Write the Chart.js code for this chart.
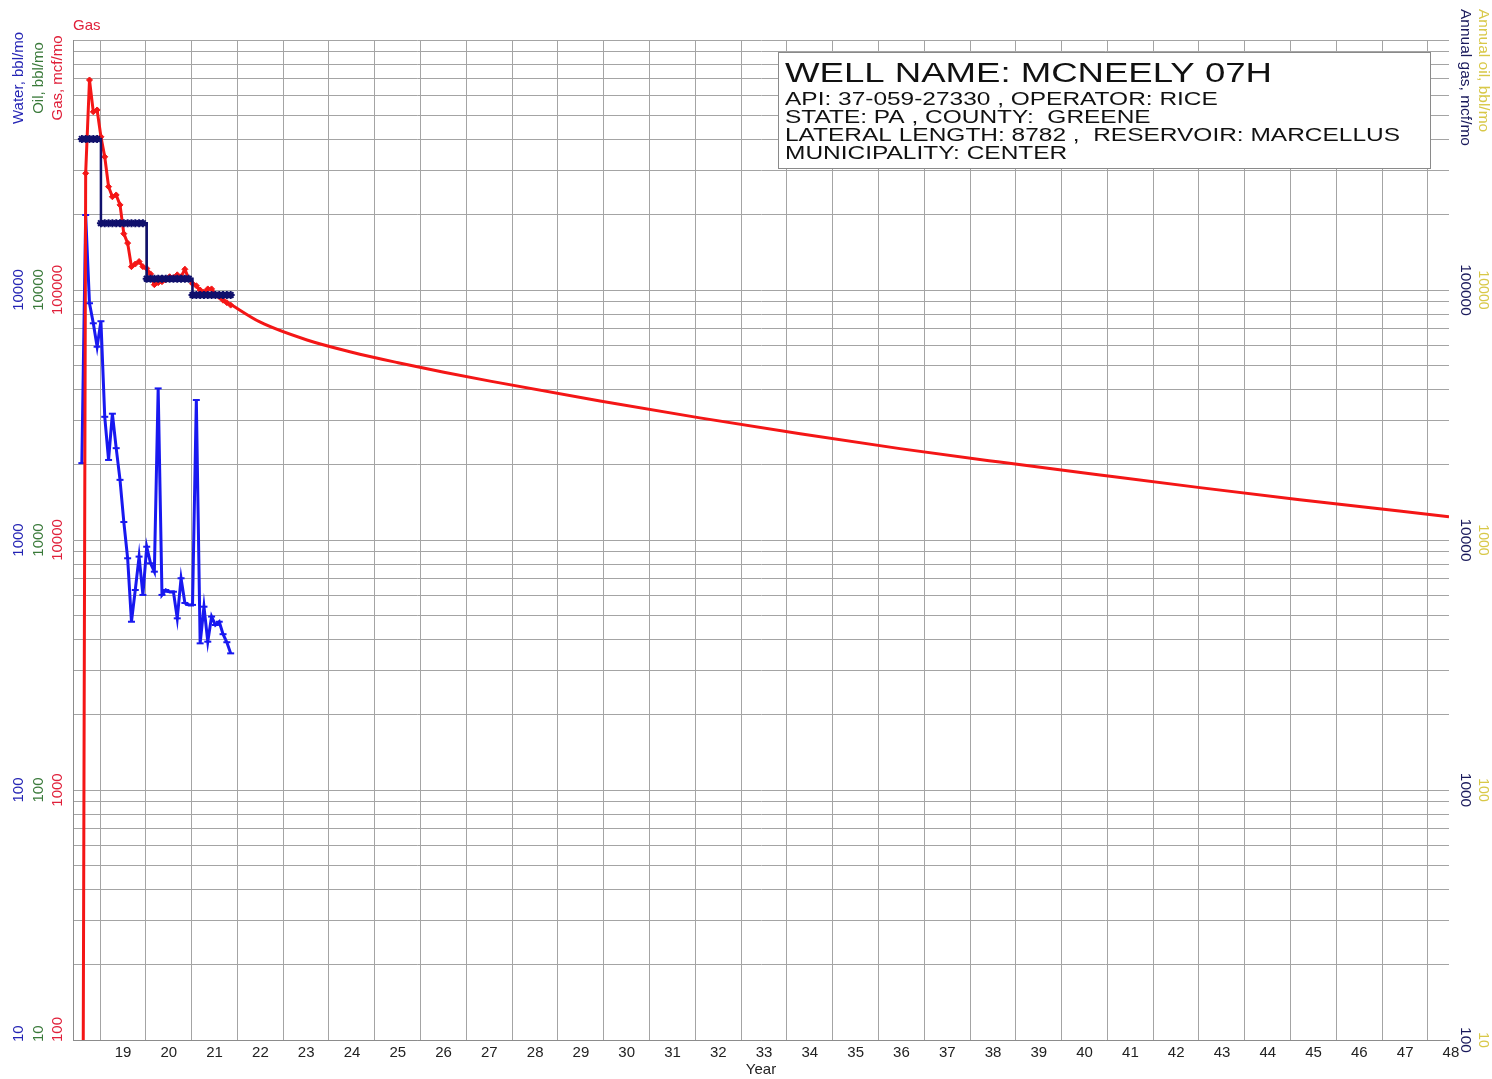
<!DOCTYPE html>
<html>
<head>
<meta charset="utf-8">
<script src="https://cdn.jsdelivr.net/npm/chart.js@4.4.1/dist/chart.umd.min.js"></script>
<style>
html, body { margin: 0; padding: 0; background: #fff; }
#wrap { width: 1492px; height: 1079px; }
</style>
</head>
<body>
<div id="wrap"><canvas id="well_chart"></canvas></div>
<script>
/** DATA **/
const prodMonths = [
    '2018-08', '2018-09', '2018-10', '2018-11', '2018-12',
    '2019-01', '2019-02', '2019-03', '2019-04', '2019-05', '2019-06',
    '2019-07', '2019-08', '2019-09', '2019-10', '2019-11', '2019-12',
    '2020-01', '2020-02', '2020-03', '2020-04', '2020-05', '2020-06',
    '2020-07', '2020-08', '2020-09', '2020-10', '2020-11', '2020-12',
    '2021-01', '2021-02', '2021-03', '2021-04', '2021-05', '2021-06',
    '2021-07', '2021-08', '2021-09', '2021-10', '2021-11'
]
// gas, mcf/mo
const gasMonthly = [
    1, 293000, 692000, 516000, 525000,
    410000, 341000, 259000, 236000, 240000, 219000,
    168000, 154000, 124000, 127000, 130000, 124000,
    122000, 116000, 105000, 107000, 108000, 110000,
    113000, 112000, 115000, 113000, 121000, 111000,
    106000, 104000, 100000, 98000, 101000, 101000,
    96000, 94000, 91000, 89000, 87000
]
// water, bbl/mo
const waterMonthly = [
    2030, 19950, 8850, 7360, 5930,
    7500, 3110, 2090, 3200, 2330, 1740,
    1180, 845, 471, 631, 858, 603,
    940, 807, 747, 4040, 603, 631,
    620, 621, 486, 703, 560, 550,
    550, 3630, 386, 541, 392, 494,
    457, 471, 420, 390, 352
]
// annual gas, mcf/mo
const annualYears = [2018, 2019, 2020, 2021]
const annualGas = [402000, 185000, 111000, 95500]

// forecast, mcf/mo
const forecastYears = [2021.84, 2022.49, 2023.52, 2024.5, 2025.51, 2026.51, 2027.52, 2029.92,
    2032.1, 2034.29, 2036.47, 2038.65, 2040.84, 2043.02, 2045.2, 2048.46]
const forecastGas = [87900, 74500, 63100, 56400, 51200, 46900, 43200, 36000,
    30800, 26600, 23200, 20500, 18200, 16200, 14500, 12400]

const yearTicks = []
for (let yr = 2019; yr <= 2048; yr++) yearTicks.push(yr)

const gasTickLabels = [100000, 10000, 1000, 100]
const waterTickLabels = [10000, 1000, 100, 10]

const infoTitle = 'WELL NAME: MCNEELY 07H'
const infoLines = [
    'API: 37-059-27330 , OPERATOR: RICE',
    'STATE: PA , COUNTY:  GREENE',
    'LATERAL LENGTH: 8782 ,  RESERVOIR: MARCELLUS',
    'MUNICIPALITY: CENTER'
]

/** helpers **/
function month_to_year(m) {
    var parts = m.split('-')
    return parseInt(parts[0]) + (parseInt(parts[1]) - 1) / 12 + 0.02
}

function to_points(xs, ys) {
    return xs.map(function (x, i) { return { x: x, y: ys[i] } })
}

const monthX = prodMonths.map(month_to_year)
const annualMonthly = prodMonths.map(function (m) {
    return annualGas[annualYears.indexOf(parseInt(m.slice(0, 4)))]
})

const FONT = 'Liberation Sans, Arial, sans-serif'
const RED = '#f41616'
const BLUE = '#1818f0'
const NAVY = '#10106c'

function log_ticks(min, max) {
    var t = []
    for (var d = min; d < max; d *= 10) {
        for (var k = 1; k < 10; k++) t.push({ value: d * k })
    }
    t.push({ value: max })
    return t
}

function draw_rot(ctx, text, x, y, angle, color, size, align) {
    ctx.save()
    ctx.translate(x, y)
    ctx.rotate(angle)
    ctx.fillStyle = color
    ctx.font = size + 'px ' + FONT
    ctx.textAlign = align || 'center'
    ctx.textBaseline = 'middle'
    ctx.fillText(text, 0, 0)
    ctx.restore()
}

/** text drawn around the plot **/
const wellText = {
    id: 'wellText',
    afterDraw(chart) {
        const ctx = chart.ctx
        const yg = chart.scales.y
        const yw = chart.scales.yw
        const bottom = chart.chartArea.bottom

        // left tick labels
        waterTickLabels.forEach(function (v) {
            ctx.font = '15px ' + FONT
            var w = ctx.measureText(String(v)).width
            var py = Math.min(yw.getPixelForValue(v), bottom + 2 - w / 2)
            draw_rot(ctx, String(v), 19, py, -Math.PI / 2, '#2424b4', 15)
            draw_rot(ctx, String(v), 39, py, -Math.PI / 2, '#3a7a3a', 15)
        })
        gasTickLabels.forEach(function (v) {
            ctx.font = '15px ' + FONT
            var w = ctx.measureText(String(v)).width
            var py = Math.min(yg.getPixelForValue(v), bottom + 2 - w / 2)
            draw_rot(ctx, String(v), 58, py, -Math.PI / 2, '#e0203a', 15)
        })

        // left titles
        draw_rot(ctx, 'Water, bbl/mo', 19, 78, -Math.PI / 2, '#2424b4', 15)
        draw_rot(ctx, 'Oil, bbl/mo', 39, 78, -Math.PI / 2, '#3a7a3a', 15)
        draw_rot(ctx, 'Gas, mcf/mo', 58, 78, -Math.PI / 2, '#e0203a', 15)

        ctx.save()
        ctx.fillStyle = '#e0203a'
        ctx.font = '15px ' + FONT
        ctx.textAlign = 'left'
        ctx.textBaseline = 'alphabetic'
        ctx.fillText('Gas', 73, 30)
        ctx.restore()

        // right titles and ticks
        draw_rot(ctx, 'Annual gas, mcf/mo', 1465, 9, Math.PI / 2, '#1a1a5c', 15.5, 'left')
        draw_rot(ctx, 'Annual oil, bbl/mo', 1483, 9, Math.PI / 2, '#d8c848', 15.5, 'left')
        gasTickLabels.forEach(function (v) {
            draw_rot(ctx, String(v), 1465, yg.getPixelForValue(v), Math.PI / 2, '#1a1a5c', 15.5)
        })
        waterTickLabels.forEach(function (v) {
            draw_rot(ctx, String(v), 1483, yw.getPixelForValue(v), Math.PI / 2, '#d8c848', 14)
        })

        // well info box
        ctx.save()
        ctx.fillStyle = '#ffffff'
        ctx.fillRect(778, 52, 652, 116)
        ctx.strokeStyle = '#8a8a8a'
        ctx.lineWidth = 1
        ctx.strokeRect(778.5, 52.5, 652, 116)
        ctx.fillStyle = '#111'
        ctx.textAlign = 'left'
        ctx.textBaseline = 'alphabetic'
        ctx.font = '27px ' + FONT
        var sx = 487 / ctx.measureText(infoTitle).width
        ctx.save()
        ctx.translate(785, 82)
        ctx.scale(sx, 1)
        ctx.fillText(infoTitle, 0, 0)
        ctx.restore()
        ctx.font = '18px ' + FONT
        var sx2 = 615 / ctx.measureText(infoLines[2]).width
        infoLines.forEach(function (line, i) {
            ctx.save()
            ctx.translate(785, 105 + i * 18)
            ctx.scale(sx2, 1)
            ctx.fillText(line, 0, 0)
            ctx.restore()
        })
        ctx.restore()
    }
}

/** CHART **/
var well_chart = new Chart(
    document.getElementById('well_chart').getContext('2d'),
    config = {
        type: 'line',
        data: {
            datasets: [{
                label: 'Annual gas',
                data: to_points(monthX, annualMonthly),
                borderColor: NAVY,
                backgroundColor: NAVY,
                borderWidth: 2.5,
                stepped: 'before',
                pointStyle: 'star',
                pointRadius: 4,
                pointBorderWidth: 2,
                yAxisID: 'y',
            }, {
                label: 'Gas',
                data: to_points(monthX, gasMonthly),
                borderColor: RED,
                backgroundColor: RED,
                borderWidth: 3,
                pointStyle: 'rectRot',
                pointRadius: 3,
                pointBorderWidth: 1,
                yAxisID: 'y',
            }, {
                label: 'Gas forecast',
                data: to_points(forecastYears, forecastGas),
                borderColor: RED,
                borderWidth: 3,
                pointRadius: 0,
                cubicInterpolationMode: 'monotone',
                yAxisID: 'y',
            }, {
                label: 'Water',
                data: to_points(monthX, waterMonthly),
                borderColor: BLUE,
                backgroundColor: BLUE,
                borderWidth: 3,
                pointStyle: 'line',
                pointRadius: 3.5,
                pointBorderWidth: 2,
                yAxisID: 'yw',
            }]
        },
        options: {
            responsive: true,
            maintainAspectRatio: false,
            animation: false,
            layout: {
                padding: { top: 40, right: 43, left: 0, bottom: 0 }
            },
            plugins: {
                legend: { display: false },
                tooltip: { enabled: false }
            },
            scales: {
                x: {
                    type: 'linear',
                    min: 2018.41,
                    max: 2048.46,
                    afterBuildTicks: function (s) {
                        s.ticks = yearTicks.map(function (v) { return { value: v } })
                    },
                    afterFit: function (s) { s.height = 39 },
                    grid: { color: '#a4a4a4', drawTicks: false },
                    border: { color: '#8c8c8c' },
                    ticks: {
                        autoSkip: false,
                        maxRotation: 0,
                        labelOffset: 23,
                        padding: 4,
                        color: '#222',
                        font: { family: FONT, size: 15 },
                        callback: function (v) { return String(v).slice(2) }
                    },
                    title: {
                        display: true,
                        text: 'Year',
                        color: '#222',
                        font: { family: FONT, size: 15 },
                        padding: 0
                    }
                },
                y: {
                    type: 'logarithmic',
                    position: 'left',
                    min: 100,
                    max: 1000000,
                    afterBuildTicks: function (s) { s.ticks = log_ticks(100, 1000000) },
                    afterFit: function (s) { s.width = 73 },
                    grid: { color: '#a4a4a4', drawTicks: false },
                    border: { color: '#8c8c8c' },
                    ticks: { display: false }
                },
                yw: {
                    type: 'logarithmic',
                    position: 'left',
                    min: 10,
                    max: 100000,
                    display: false
                }
            }
        },
        plugins: [wellText]
    }
);
</script>
</body>
</html>
